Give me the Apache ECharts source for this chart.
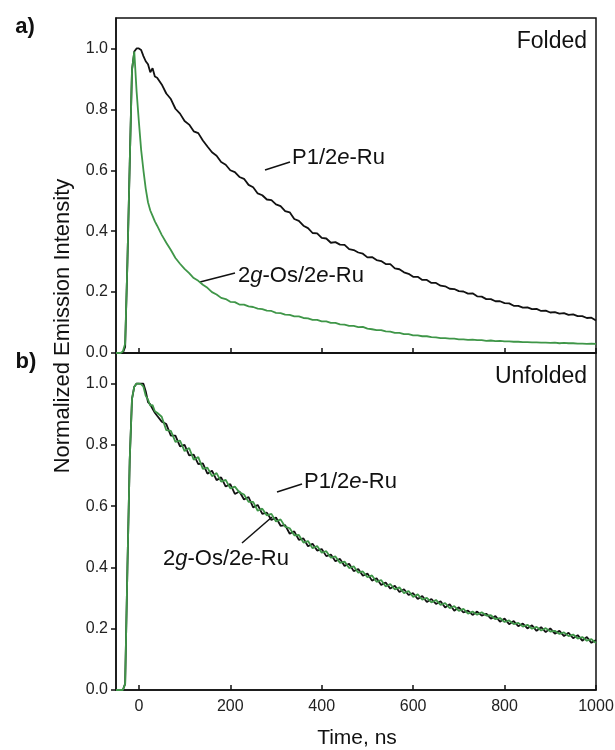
<!DOCTYPE html>
<html>
<head>
<meta charset="utf-8">
<script src="https://cdn.jsdelivr.net/npm/echarts@6/dist/echarts.min.js"></script>
<style>
  html, body { margin: 0; padding: 0; background: #fff; }
  #main { width: 615px; height: 750px; }
</style>
</head>
<body>
<div id="main"></div>
<script>
// time axis, ns (shared by all four traces)
var timeNs = [
  -50, -40, -35, -30, -25, -20, -15, -10, -5, 0,
  5, 10, 15, 20, 25, 30, 35, 40,
  50, 60, 70, 80, 90, 100, 110, 120, 130, 140,
  150, 160, 170, 180, 190, 200, 210, 220, 230, 240,
  250, 260, 270, 280, 290, 300, 310, 320, 330, 340,
  350, 360, 370, 380, 390, 400, 410, 420, 430, 440,
  450, 460, 470, 480, 490, 500, 510, 520, 530, 540,
  550, 560, 570, 580, 590, 600, 610, 620, 630, 640,
  650, 660, 670, 680, 690, 700, 710, 720, 730, 740,
  750, 760, 770, 780, 790, 800, 810, 820, 830, 840,
  850, 860, 870, 880, 890, 900, 910, 920, 930, 940,
  950, 960, 970, 980, 990, 1000
];

// a) Folded
var foldedP1 = [
  0, 0, 0, 0.02, 0.3, 0.62, 0.93, 0.99, 1.0, 1.0,
  0.995, 0.975, 0.958, 0.948, 0.922, 0.935, 0.908, 0.904,
  0.882, 0.852, 0.834, 0.802, 0.786, 0.762, 0.75, 0.728, 0.722, 0.698,
  0.678, 0.659, 0.648, 0.627, 0.618, 0.6, 0.594, 0.578, 0.572, 0.552,
  0.544, 0.524, 0.518, 0.504, 0.502, 0.488, 0.482, 0.466, 0.462, 0.44,
  0.434, 0.418, 0.41, 0.394, 0.393, 0.378, 0.376, 0.362, 0.364, 0.356,
  0.355, 0.341, 0.338, 0.33, 0.326, 0.314, 0.315, 0.305, 0.302, 0.292,
  0.292, 0.278, 0.275, 0.265, 0.26, 0.25, 0.25, 0.24, 0.24, 0.23,
  0.23, 0.221, 0.219, 0.211, 0.21, 0.203, 0.202, 0.195, 0.196, 0.186,
  0.185, 0.177, 0.177, 0.17, 0.17, 0.164, 0.163, 0.155, 0.155, 0.149,
  0.15, 0.144, 0.145, 0.138, 0.139, 0.133, 0.134, 0.129, 0.131, 0.125,
  0.127, 0.121, 0.121, 0.115, 0.116, 0.107
];
var foldedOs = [
  0, 0, 0.005, 0.03, 0.3, 0.62, 0.93, 0.99, 0.86, 0.76,
  0.667, 0.6, 0.54, 0.495, 0.468, 0.45, 0.432, 0.418,
  0.388, 0.362, 0.338, 0.312, 0.293, 0.276, 0.262, 0.246, 0.237, 0.224,
  0.214, 0.2, 0.192, 0.181, 0.177, 0.168, 0.167, 0.159, 0.159, 0.153,
  0.151, 0.146, 0.144, 0.139, 0.138, 0.132, 0.131, 0.126, 0.125, 0.12,
  0.12, 0.115, 0.114, 0.109, 0.109, 0.104, 0.104, 0.099, 0.099, 0.094,
  0.093, 0.089, 0.089, 0.085, 0.086, 0.08, 0.078, 0.075, 0.075, 0.071,
  0.07, 0.066, 0.066, 0.062, 0.062, 0.058, 0.058, 0.055, 0.055, 0.052,
  0.051, 0.049, 0.049, 0.047, 0.047, 0.045, 0.045, 0.043, 0.044, 0.042,
  0.042, 0.04, 0.041, 0.039, 0.04, 0.038, 0.038, 0.037, 0.037, 0.036,
  0.036, 0.035, 0.035, 0.034, 0.034, 0.033, 0.034, 0.032, 0.033, 0.032,
  0.032, 0.031, 0.031, 0.03, 0.031, 0.03
];

// b) Unfolded
var unfoldedP1 = [
  0, 0, 0, 0.02, 0.4, 0.75, 0.95, 0.99, 1.0, 1.0,
  1.0, 1.0, 0.975, 0.94, 0.932, 0.918, 0.905, 0.895,
  0.876, 0.868, 0.83, 0.83, 0.795, 0.8, 0.766, 0.768, 0.737, 0.74,
  0.706, 0.716, 0.685, 0.694, 0.664, 0.672, 0.64, 0.648, 0.622, 0.63,
  0.596, 0.604, 0.575, 0.579, 0.555, 0.563, 0.536, 0.538, 0.51, 0.518,
  0.49, 0.495, 0.469, 0.477, 0.455, 0.46, 0.437, 0.442, 0.42, 0.428,
  0.405, 0.412, 0.388, 0.395, 0.373, 0.38, 0.357, 0.365, 0.343, 0.351,
  0.331, 0.34, 0.32, 0.329, 0.31, 0.316, 0.297, 0.307, 0.287, 0.297,
  0.281, 0.29, 0.269, 0.28, 0.259, 0.27, 0.253, 0.259, 0.245, 0.256,
  0.243, 0.249, 0.233, 0.241, 0.223, 0.233, 0.215, 0.225, 0.208, 0.217,
  0.201, 0.211, 0.193, 0.205, 0.189, 0.201, 0.184, 0.193, 0.176, 0.187,
  0.169, 0.179, 0.161, 0.173, 0.154, 0.163
];
var unfoldedOs = [
  0, 0, 0, 0.02, 0.4, 0.75, 0.95, 0.99, 1.0, 1.0,
  0.998, 0.99, 0.96, 0.948, 0.928, 0.93, 0.91, 0.905,
  0.892, 0.848, 0.846, 0.81, 0.814, 0.78, 0.79, 0.752, 0.76, 0.722,
  0.726, 0.698, 0.708, 0.68, 0.686, 0.658, 0.664, 0.645, 0.638, 0.614,
  0.614, 0.585, 0.592, 0.57, 0.575, 0.55, 0.557, 0.533, 0.528, 0.505,
  0.506, 0.481, 0.486, 0.463, 0.47, 0.448, 0.453, 0.432, 0.436, 0.415,
  0.419, 0.398, 0.404, 0.383, 0.387, 0.368, 0.374, 0.353, 0.359, 0.338,
  0.346, 0.328, 0.335, 0.316, 0.323, 0.304, 0.312, 0.295, 0.301, 0.286,
  0.294, 0.278, 0.284, 0.267, 0.274, 0.258, 0.265, 0.249, 0.256, 0.246,
  0.254, 0.243, 0.244, 0.231, 0.235, 0.222, 0.227, 0.215, 0.219, 0.207,
  0.213, 0.2, 0.206, 0.194, 0.202, 0.191, 0.193, 0.183, 0.188, 0.176,
  0.181, 0.168, 0.173, 0.161, 0.166, 0.153
];

var xTicks = [0, 200, 400, 600, 800, 1000];
var yTicks = [0, 0.2, 0.4, 0.6, 0.8, 1.0];

var BLACK = '#111111';
var GREEN = '#3f9648';
var FONT = 'Liberation Sans, Arial, sans-serif';

function pairs(vals) {
  return timeNs.map(function (t, i) { return [t, vals[i]]; });
}

function xAxisCfg(idx, showLabels) {
  return {
    type: 'value', gridIndex: idx, min: -50, max: 1000,
    axisLine: { show: true, onZero: false, lineStyle: { color: BLACK, width: 1.5 } },
    axisTick: { show: true, inside: true, length: 5, customValues: xTicks,
      lineStyle: { color: BLACK, width: 1.5 } },
    axisLabel: { show: showLabels, customValues: xTicks, fontSize: 16,
      color: '#222', fontFamily: FONT, margin: 9,
      formatter: function (v) { return String(v); } },
    splitLine: { show: false }
  };
}

function yAxisCfg(idx) {
  return {
    type: 'value', gridIndex: idx, min: 0, max: 1.1,
    axisLine: { show: true, onZero: false, lineStyle: { color: BLACK, width: 1.5 } },
    axisTick: { show: true, inside: false, length: 5, customValues: yTicks,
      lineStyle: { color: BLACK, width: 1.5 } },
    axisLabel: { customValues: yTicks, fontSize: 16, color: '#222',
      fontFamily: FONT, margin: 8,
      formatter: function (v) { return v.toFixed(1); } },
    splitLine: { show: false }
  };
}

function lineSeries(vals, color, idx) {
  return {
    type: 'line', xAxisIndex: idx, yAxisIndex: idx,
    data: pairs(vals), showSymbol: false, symbol: 'none',
    lineStyle: { color: color, width: 1.8 },
    z: color == GREEN ? 3 : 2
  };
}

var richLbl = {
  n: { fontSize: 22, fontFamily: FONT, fill: '#111' },
  i: { fontSize: 22, fontFamily: FONT, fontStyle: 'italic', fill: '#111' }
};

function label(x, y, str) {
  return { type: 'text', x: x, y: y,
    style: { text: str, rich: richLbl, verticalAlign: 'middle', align: 'left' } };
}
function leader(x1, y1, x2, y2) {
  return { type: 'line', shape: { x1: x1, y1: y1, x2: x2, y2: y2 },
    style: { stroke: '#111', lineWidth: 1.5 } };
}
function plainText(x, y, str, size, align, weight) {
  return { type: 'text', x: x, y: y,
    style: { text: str, font: (weight || 'normal') + ' ' + size + 'px ' + FONT,
      fill: '#111', align: align, verticalAlign: 'middle' } };
}

var option = {
  animation: false,
  backgroundColor: '#fff',
  grid: [
    { left: 116, top: 18, width: 480, height: 335, show: true,
      outerBoundsMode: 'none', containLabel: false,
      borderColor: BLACK, borderWidth: 1.5, backgroundColor: 'transparent' },
    { left: 116, top: 353, width: 480, height: 337, show: true,
      outerBoundsMode: 'none', containLabel: false,
      borderColor: BLACK, borderWidth: 1.5, backgroundColor: 'transparent' }
  ],
  xAxis: [xAxisCfg(0, false), xAxisCfg(1, true)],
  yAxis: [yAxisCfg(0), yAxisCfg(1)],
  series: [
    lineSeries(foldedP1, BLACK, 0),
    lineSeries(foldedOs, GREEN, 0),
    lineSeries(unfoldedP1, BLACK, 1),
    lineSeries(unfoldedOs, GREEN, 1)
  ],
  graphic: [
    plainText(25, 27, 'a)', 22, 'center', 'bold'),
    plainText(26, 362, 'b)', 22, 'center', 'bold'),
    plainText(587, 42, 'Folded', 23, 'right'),
    plainText(587, 377, 'Unfolded', 23, 'right'),
    // folded labels
    leader(265, 170, 290, 162),
    label(292, 158, '{n|P1/2}{i|e}{n|-Ru}'),
    leader(200, 282, 235, 273),
    label(238, 276, '{n|2}{i|g}{n|-Os/2}{i|e}{n|-Ru}'),
    // unfolded labels
    leader(277, 492, 302, 484),
    label(304, 482, '{n|P1/2}{i|e}{n|-Ru}'),
    leader(242, 543, 272, 517),
    label(163, 559, '{n|2}{i|g}{n|-Os/2}{i|e}{n|-Ru}'),
    // axis titles
    { type: 'text', x: 63, y: 326, rotation: Math.PI / 2,
      style: { text: 'Normalized Emission Intensity', font: '22px ' + FONT,
        fill: '#111', align: 'center', verticalAlign: 'middle' } },
    plainText(357, 738, 'Time, ns', 21, 'center')
  ]
};

var myChart = echarts.init(document.getElementById('main'));
myChart.setOption(option);
</script>
</body>
</html>
